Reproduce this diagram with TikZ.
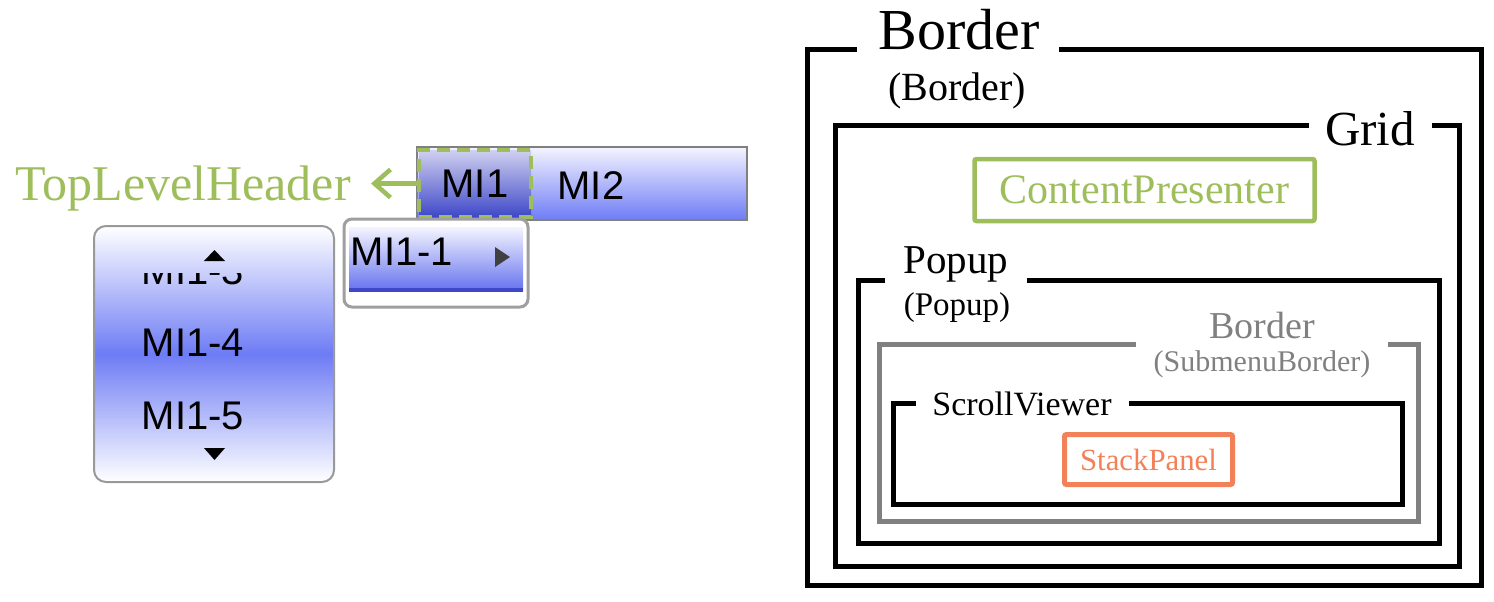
\documentclass[tikz,border=0pt]{standalone}
\usepackage{fontspec}
\setmainfont{Liberation Serif}
\newfontfamily\menufont{Liberation Sans}
\usetikzlibrary{arrows.meta,positioning}

\definecolor{hdrgreen}{RGB}{158,190,92}
\definecolor{paneorange}{RGB}{242,128,88}
\definecolor{framegray}{RGB}{128,128,128}
\definecolor{menublue}{RGB}{110,124,245}
\definecolor{bartop}{RGB}{244,244,255}
\definecolor{hitop}{RGB}{208,208,240}
\definecolor{hiblue}{RGB}{62,72,200}

\begin{document}
\begin{tikzpicture}[
  x=0.5pt, y=-0.5pt,
  frame/.style={draw=black, line width=2.5pt},
  grayframe/.style={draw=framegray, line width=2.5pt},
  title/.style={inner sep=0pt, anchor=base, font=\fontsize{20}{24}\selectfont},
  cpbox/.style={draw=hdrgreen, line width=2.25pt, text=hdrgreen, rounded corners=1pt,
                minimum width=170pt, minimum height=31pt, inner sep=0pt,
                font=\fontsize{21}{24}\selectfont},
  spbox/.style={draw=paneorange, line width=2.5pt, text=paneorange, rounded corners=1pt,
                minimum width=84pt, minimum height=25pt, inner sep=0pt,
                font=\fontsize{15.4}{18}\selectfont},
  item/.style={inner sep=0pt, font=\menufont\fontsize{20}{22}\selectfont},
  arr/.style={-{Straight Barb[length=8pt,width=14pt]}, line width=2.25pt, draw=hdrgreen}
]
\useasboundingbox (0,0) rectangle (1494,601);

% template frames
\draw[frame] (857,49.5) -| (807,585) -| (1481,49.5) -- (1059,49.5);
\draw[frame] (1309,125) -| (835,566) -| (1459,125) -- (1432,125);
\draw[frame] (885,280) -| (858,543) -| (1439,280) -- (1027,280);
\draw[grayframe] (1136,344) -| (879,521) -| (1418,344) -- (1388,344);
\draw[frame] (916,403) -| (893,504) -| (1402,403) -- (1129,403);

\node[title, font=\fontsize{29}{32}\selectfont] (brdtitle) at (959,49) {Border};
\node[title] (brdname) at (957,100) {(Border)};
\node[title, font=\fontsize{24.5}{28}\selectfont] (gridtitle) at (1370,145) {Grid};
\node[cpbox] (cp) at (1144.5,190) {ContentPresenter};
\node[title, font=\fontsize{20.5}{24}\selectfont] (popuptitle) at (956,273) {Popup};
\node[title, font=\fontsize{16.5}{20}\selectfont] (popupname) at (957,315) {(Popup)};
\node[title, text=framegray, font=\fontsize{19}{22}\selectfont] (subtitle) at (1262,338) {Border};
\node[title, text=framegray, font=\fontsize{15}{18}\selectfont] (subname) at (1262,371) {(SubmenuBorder)};
\node[title, font=\fontsize{17}{20}\selectfont] (svtitle) at (1022,415) {ScrollViewer};
\node[spbox] (sp) at (1148.5,459.5) {StackPanel};

% menu bar
\shade[draw=gray, line width=1pt, top color=bartop, bottom color=menublue] (417,147) rectangle (747,220);
\node[item, draw=hdrgreen, line width=2.4pt, dash pattern=on 6.5pt off 3.5pt,
      top color=hitop, bottom color=hiblue,
      minimum width=56pt, minimum height=33.5pt] (mi1) at (475,183.5) {MI1};
\node[item] (mi2) at (591,186) {MI2};
\node[title, text=hdrgreen, anchor=base east, font=\fontsize{25}{28}\selectfont] (tlh) at (351,200) {TopLevelHeader};
\draw[arr, shorten >=10pt] (mi1.west) -- (mi1.west -| tlh.east);

% submenu
\draw[draw=gray!75, line width=1.5pt, fill=white, rounded corners=4pt] (344,219) rectangle (528,307);
\shade[top color=bartop, bottom color=menublue!85!hiblue] (349,227) rectangle (523,290);
\fill[hiblue] (349,288) rectangle (523,292);
\node[item] (mi11) at (402,252) {MI1-1};
\fill[darkgray] (495,247) -- (510,257) -- (495,267) -- cycle;

% scrolling submenu
\shade[draw=gray!80, line width=1pt, rounded corners=6pt, top color=white, bottom color=white,
       middle color=menublue] (94,226) rectangle (334,482);
\begin{scope}
  \clip (94,273) rectangle (334,300);
  \node[item] (mi13) at (193,271) {MI1-3};
\end{scope}
\node[item] (mi14) at (193,343) {MI1-4};
\node[item] (mi15) at (193,416) {MI1-5};
\fill (204,261) -- (225,261) -- (214.5,250) -- cycle;
\fill (204,448) -- (225,448) -- (214.5,460) -- cycle;
\end{tikzpicture}
\end{document}
